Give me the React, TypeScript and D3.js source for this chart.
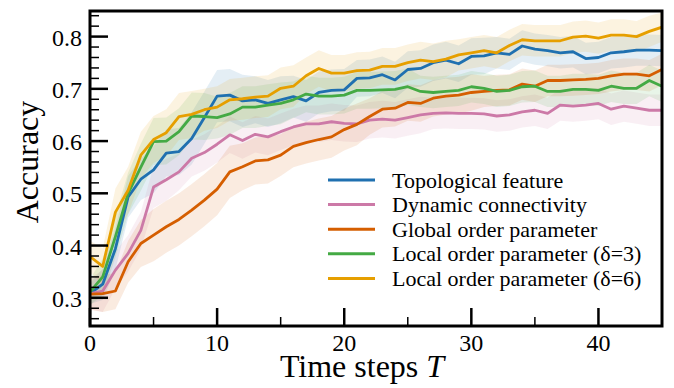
import React from 'react'
import * as d3 from 'd3'

// time steps 0..45
const steps = d3.range(0, 46)

const seriesNames = [
  'Topological feature',
  'Dynamic connectivity',
  'Global order parameter',
  'Local order parameter (δ=3)',
  'Local order parameter (δ=6)'
]

const seriesColors = ['#1f70b0', '#cc79a7', '#d55e00', '#44aa44', '#e69f00']

const topological = [
  0.308, 0.326, 0.394, 0.493, 0.527, 0.545, 0.577, 0.580, 0.605, 0.645,
  0.686, 0.688, 0.677, 0.679, 0.672, 0.679, 0.685, 0.677, 0.693, 0.697,
  0.698, 0.720, 0.721, 0.727, 0.717, 0.737, 0.739, 0.750, 0.755, 0.748,
  0.762, 0.763, 0.769, 0.766, 0.782, 0.776, 0.773, 0.769, 0.771, 0.758,
  0.760, 0.769, 0.771, 0.774, 0.774, 0.773
]

const dynamic = [
  0.308, 0.313, 0.353, 0.385, 0.429, 0.512, 0.526, 0.541, 0.567, 0.578,
  0.594, 0.612, 0.601, 0.613, 0.608, 0.618, 0.627, 0.633, 0.633, 0.637,
  0.634, 0.633, 0.640, 0.642, 0.640, 0.645, 0.650, 0.653, 0.654, 0.653,
  0.653, 0.652, 0.648, 0.650, 0.656, 0.659, 0.653, 0.669, 0.667, 0.669,
  0.672, 0.661, 0.667, 0.663, 0.659, 0.659
]

const globalOrder = [
  0.307, 0.308, 0.313, 0.369, 0.404, 0.420, 0.436, 0.450, 0.468, 0.487,
  0.508, 0.541, 0.551, 0.562, 0.564, 0.573, 0.590, 0.597, 0.603, 0.608,
  0.622, 0.632, 0.647, 0.661, 0.663, 0.674, 0.672, 0.682, 0.686, 0.688,
  0.693, 0.695, 0.697, 0.698, 0.709, 0.705, 0.716, 0.716, 0.717, 0.718,
  0.720, 0.725, 0.728, 0.728, 0.725, 0.737
]

const localThree = [
  0.311, 0.340, 0.417, 0.500, 0.550, 0.599, 0.600, 0.618, 0.648, 0.647,
  0.645, 0.652, 0.665, 0.665, 0.669, 0.672, 0.679, 0.690, 0.686, 0.686,
  0.688, 0.697, 0.697, 0.698, 0.699, 0.704, 0.695, 0.693, 0.695, 0.697,
  0.704, 0.701, 0.695, 0.697, 0.704, 0.705, 0.695, 0.695, 0.699, 0.699,
  0.697, 0.705, 0.701, 0.701, 0.716, 0.705
]

const localSix = [
  0.379, 0.360, 0.464, 0.506, 0.573, 0.603, 0.616, 0.647, 0.651, 0.660,
  0.665, 0.679, 0.681, 0.684, 0.686, 0.701, 0.705, 0.725, 0.739, 0.730,
  0.730, 0.735, 0.736, 0.743, 0.743, 0.750, 0.755, 0.752, 0.757, 0.765,
  0.769, 0.773, 0.769, 0.783, 0.794, 0.792, 0.792, 0.792, 0.799, 0.801,
  0.797, 0.803, 0.803, 0.800, 0.810, 0.818
]

// half widths of the shaded bands
const topologicalSpread = [
  0.020, 0.030, 0.040, 0.040, 0.040, 0.045, 0.045, 0.045, 0.050, 0.050,
  0.050, 0.050, 0.050, 0.045, 0.045, 0.045, 0.040, 0.040, 0.040, 0.040,
  0.040, 0.035, 0.035, 0.035, 0.035, 0.035, 0.035, 0.035, 0.035, 0.035,
  0.035, 0.035, 0.030, 0.030, 0.030, 0.030, 0.030, 0.030, 0.030, 0.030,
  0.030, 0.030, 0.030, 0.030, 0.030, 0.030
]

const dynamicSpread = [
  0.030, 0.040, 0.035, 0.035, 0.035, 0.040, 0.040, 0.035, 0.035, 0.035,
  0.035, 0.035, 0.035, 0.035, 0.035, 0.035, 0.035, 0.035, 0.035, 0.035,
  0.035, 0.035, 0.035, 0.035, 0.035, 0.035, 0.035, 0.030, 0.030, 0.030,
  0.030, 0.030, 0.030, 0.030, 0.030, 0.030, 0.030, 0.030, 0.030, 0.030,
  0.030, 0.030, 0.030, 0.030, 0.030, 0.030
]

const globalSpread = [
  0.030, 0.035, 0.035, 0.040, 0.045, 0.050, 0.050, 0.050, 0.050, 0.050,
  0.050, 0.050, 0.045, 0.045, 0.045, 0.040, 0.040, 0.040, 0.040, 0.040,
  0.040, 0.040, 0.035, 0.035, 0.035, 0.035, 0.035, 0.035, 0.035, 0.035,
  0.035, 0.030, 0.030, 0.030, 0.030, 0.030, 0.030, 0.030, 0.030, 0.030,
  0.030, 0.030, 0.030, 0.030, 0.030, 0.030
]

const localThreeSpread = [
  0.025, 0.035, 0.040, 0.040, 0.045, 0.045, 0.045, 0.045, 0.045, 0.045,
  0.040, 0.040, 0.040, 0.040, 0.040, 0.040, 0.035, 0.035, 0.035, 0.035,
  0.035, 0.035, 0.035, 0.035, 0.035, 0.035, 0.030, 0.030, 0.030, 0.030,
  0.030, 0.030, 0.030, 0.030, 0.030, 0.030, 0.030, 0.030, 0.030, 0.030,
  0.030, 0.030, 0.030, 0.030, 0.030, 0.030
]

const localSixSpread = [
  0.030, 0.035, 0.045, 0.045, 0.045, 0.045, 0.045, 0.045, 0.045, 0.040,
  0.040, 0.040, 0.040, 0.040, 0.040, 0.040, 0.040, 0.035, 0.035, 0.035,
  0.035, 0.035, 0.035, 0.035, 0.035, 0.035, 0.035, 0.035, 0.035, 0.030,
  0.030, 0.030, 0.030, 0.030, 0.030, 0.030, 0.030, 0.030, 0.030, 0.030,
  0.030, 0.030, 0.030, 0.030, 0.030, 0.028
]

const seriesValues = [topological, dynamic, globalOrder, localThree, localSix]
const seriesSpreads = [topologicalSpread, dynamicSpread, globalSpread, localThreeSpread, localSixSpread]

const xTicks = [0, 10, 20, 30, 40]
const xMinorTicks = [5, 15, 25, 35]
const yTicks = [0.3, 0.4, 0.5, 0.6, 0.7, 0.8]
const yMinorTicks = [0.26, 0.28, 0.32, 0.34, 0.36, 0.38, 0.42, 0.44, 0.46, 0.48, 0.52, 0.54, 0.56, 0.58, 0.62, 0.64, 0.66, 0.68, 0.72, 0.74, 0.76, 0.78, 0.82, 0.84]

const W = 674
const H = 388
const M = { left: 90, right: 662, top: 11, bottom: 326 }
const FONT = '"Liberation Serif", "Times New Roman", "DejaVu Serif", serif'

export default function App() {
  const x = d3.scaleLinear().domain([0, 45]).range([M.left, M.right])
  const y = d3.scaleLinear().domain([0.246, 0.849]).range([M.bottom, M.top])

  const line = d3.line<number>()
    .x((d, i) => x(steps[i]))
    .y((d) => y(d))

  const band = (vals: number[], spread: number[]) =>
    d3.area<number>()
      .x((d, i) => x(steps[i]))
      .y0((d, i) => y(vals[i] - spread[i]))
      .y1((d, i) => y(vals[i] + spread[i]))(vals)

  const legendX = 328
  const legendY = 180
  const legendStep = 24.6

  return (
    <svg width={W} height={H} style={{ position: 'absolute', left: 0, top: 0, background: '#fff' }} fontFamily={FONT}>
      <defs>
        <clipPath id="plot">
          <rect x={M.left} y={M.top} width={M.right - M.left} height={M.bottom - M.top} />
        </clipPath>
      </defs>

      {/* shaded bands */}
      <g clipPath="url(#plot)">
        {seriesValues.map((vals, i) => (
          <path key={'b' + i} d={band(vals, seriesSpreads[i]) || ''} fill={seriesColors[i]} fillOpacity={0.12} stroke="none" />
        ))}
      </g>

      {/* lines */}
      <g clipPath="url(#plot)">
        {seriesValues.map((vals, i) => (
          <path key={'l' + i} d={line(vals) || ''} fill="none" stroke={seriesColors[i]} strokeWidth={2.8} strokeLinejoin="round" />
        ))}
      </g>

      {/* ticks */}
      <g stroke="#000">
        {yTicks.map((t) => (
          <line key={'yt' + t} x1={M.left} x2={M.left + 18} y1={y(t)} y2={y(t)} strokeWidth={2.5} />
        ))}
        {yMinorTicks.map((t) => (
          <line key={'ym' + t} x1={M.left} x2={M.left + 9} y1={y(t)} y2={y(t)} strokeWidth={1.5} />
        ))}
        {xTicks.map((t) => (
          <line key={'xt' + t} x1={x(t)} x2={x(t)} y1={M.bottom} y2={M.bottom - 18} strokeWidth={2.5} />
        ))}
        {xMinorTicks.map((t) => (
          <line key={'xm' + t} x1={x(t)} x2={x(t)} y1={M.bottom} y2={M.bottom - 9} strokeWidth={1.5} />
        ))}
      </g>

      {/* frame */}
      <rect x={M.left} y={M.top} width={M.right - M.left} height={M.bottom - M.top} fill="none" stroke="#000" strokeWidth={3} />

      {/* tick labels */}
      <g fontSize={24} fill="#000" fontFamily={FONT}>
        {yTicks.map((t) => (
          <text key={'yl' + t} x={M.left - 8} y={y(t) + 9} textAnchor="end">{d3.format('.1f')(t)}</text>
        ))}
        {xTicks.map((t) => (
          <text key={'xl' + t} x={x(t)} y={351} textAnchor="middle">{t}</text>
        ))}
      </g>

      {/* axis labels */}
      <text x={362} y={377} fontSize={32} textAnchor="middle">
        Time steps <tspan fontStyle="italic">T</tspan>
      </text>
      <text transform="translate(38,162) rotate(-90)" fontSize={32} textAnchor="middle">Accuracy</text>

      {/* legend */}
      <g>
        {seriesNames.map((name, i) => (
          <g key={'lg' + i} transform={`translate(${legendX},${legendY + i * legendStep})`}>
            <line x1={0} x2={47} y1={0} y2={0} stroke={seriesColors[i]} strokeWidth={3} />
            <text x={64} y={7.5} fontSize={22}>{name}</text>
          </g>
        ))}
      </g>
    </svg>
  )
}
